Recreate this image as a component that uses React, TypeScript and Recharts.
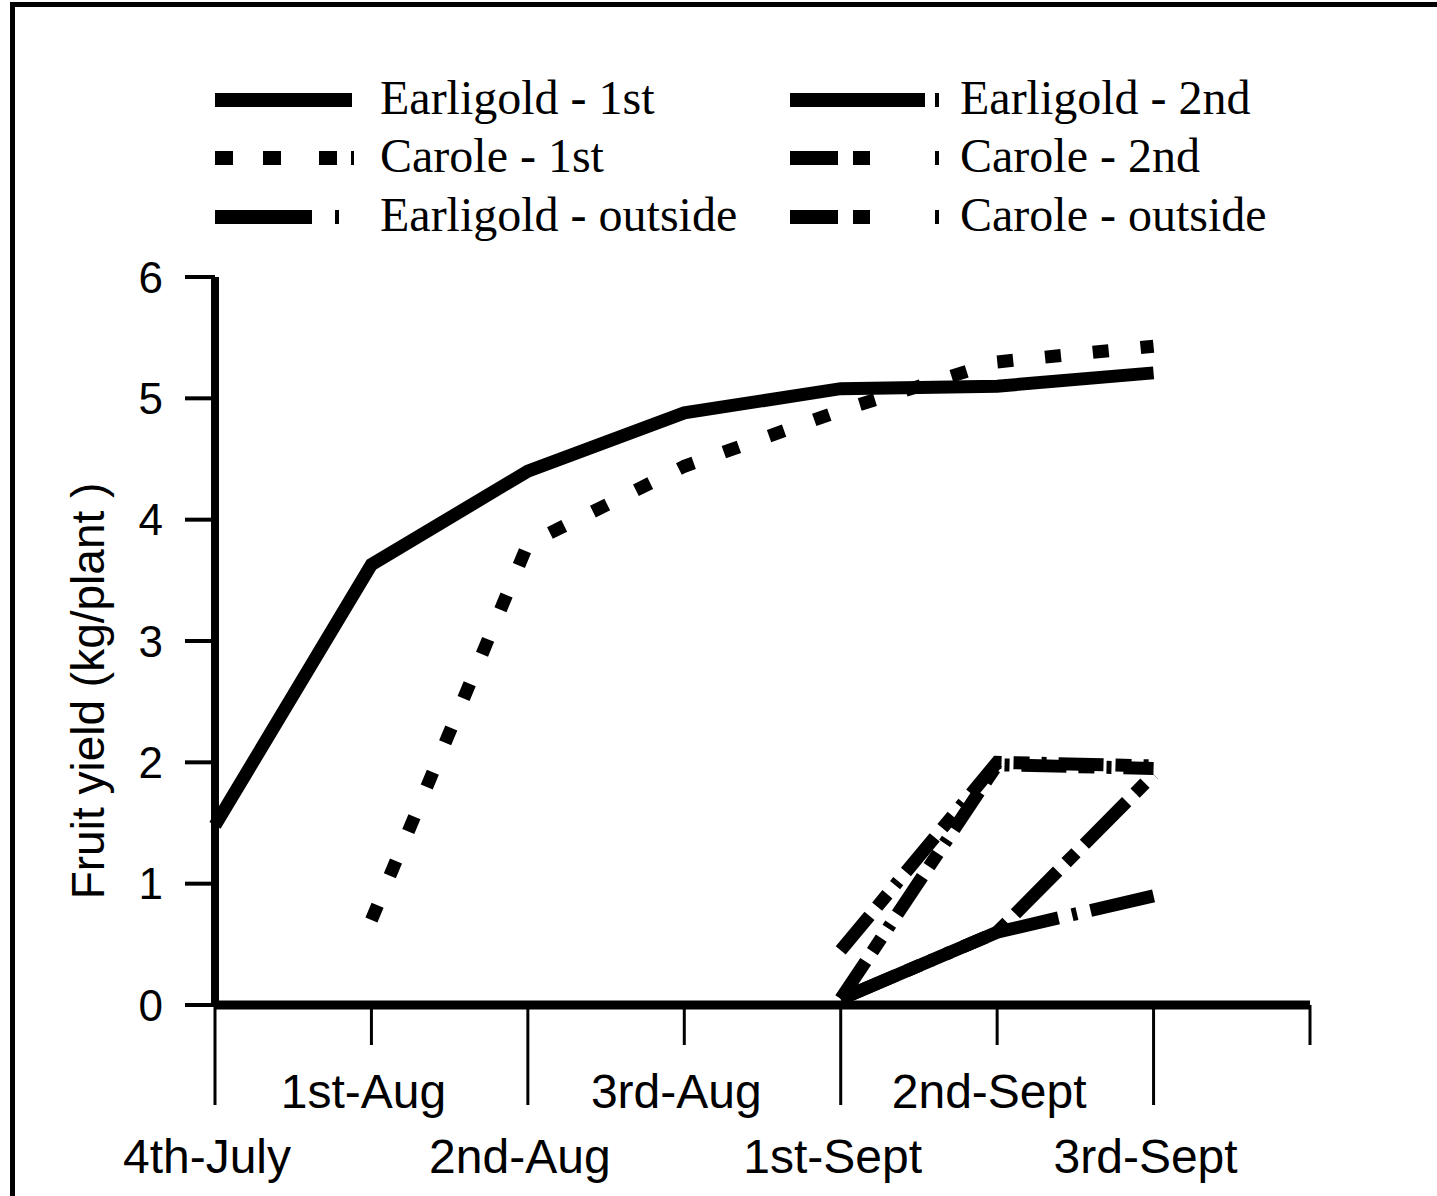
import React from "react";
import { LineChart, Line, XAxis, YAxis, Legend, Label } from "recharts";

// harvest weeks (last slot is an empty end tick)
const weeks = ["4th-July", "1st-Aug", "2nd-Aug", "3rd-Aug", "1st-Sept", "2nd-Sept", "3rd-Sept", ""];

const earligold1st = [1.48, 3.63, 4.4, 4.88, 5.08, 5.1, 5.21, null];
const carole1st = [null, 0.7, 3.8, 4.44, 4.9, 5.3, 5.43, null];
const earligold2nd = [null, null, null, null, 0.05, 0.6, 0.9, null];
const carole2nd = [null, null, null, null, 0.45, 2.0, 1.97, null];
const earligoldOutside = [null, null, null, null, 0.05, 0.6, 1.9, null];
const caroleOutside = [null, null, null, null, 0.05, 1.98, 1.95, null];

const yTicks = [0, 1, 2, 3, 4, 5, 6];

type Series = {
  key: string;
  name: string;
  values: (number | null)[];
  dash?: string;
  legendDash?: string;
  col: number;
  row: number;
};

const series: Series[] = [
  { key: "e1", name: "Earligold - 1st", values: earligold1st, col: 0, row: 0 },
  { key: "e2", name: "Earligold - 2nd", values: earligold2nd, dash: "100 14 5 14", legendDash: "135 10 4 40", col: 1, row: 0 },
  { key: "c1", name: "Carole - 1st", values: carole1st, dash: "16 32", legendDash: "18 30 18 38 18 14 3 100", col: 0, row: 1 },
  { key: "c2", name: "Carole - 2nd", values: carole2nd, dash: "45 12 16 12 5 12", legendDash: "48 15 17 65 4 60", col: 1, row: 1 },
  { key: "eo", name: "Earligold - outside", values: earligoldOutside, dash: "60 12 14 12", legendDash: "97 23 4 60", col: 0, row: 2 },
  { key: "co", name: "Carole - outside", values: caroleOutside, dash: "45 12 16 12 5 12", legendDash: "48 15 17 65 4 60", col: 1, row: 2 },
];

const data = weeks.map((week, i) => {
  const row: Record<string, string | number | null> = { week };
  series.forEach((s) => {
    row[s.key] = s.values[i];
  });
  return row;
});

const colSample = [215, 790];
const colText = [380, 960];
const rowY = [100, 158, 217];

const renderLegend = () => (
  <div style={{ position: "relative", width: 1437, height: 260 }}>
    {series.map((s) => (
      <React.Fragment key={s.key}>
        <svg
          width={150}
          height={20}
          style={{ position: "absolute", left: colSample[s.col], top: rowY[s.row] - 10 }}
        >
          <line x1={0} y1={10} x2={s.legendDash ? 150 : 137} y2={10} stroke="#000" strokeWidth={14} strokeDasharray={s.legendDash} />
        </svg>
        <div
          style={{
            position: "absolute",
            left: colText[s.col],
            top: rowY[s.row] - 30,
            fontFamily: "Liberation Serif",
            fontSize: 48,
            lineHeight: "56px",
            color: "#000",
            whiteSpace: "nowrap",
          }}
        >
          {s.name}
        </div>
      </React.Fragment>
    ))}
  </div>
);

const WeekTick = (props: any) => {
  const { x, y, payload } = props;
  const i = weeks.indexOf(payload.value);
  const low = i % 2 === 0;
  return (
    <g>
      <line x1={x} y1={y} x2={x} y2={y + (low ? 100 : 40)} stroke="#000" strokeWidth={3} />
      {payload.value ? (
        <text
          x={x - 8}
          y={y + (low ? 168 : 103)}
          textAnchor="middle"
          fontSize={48}
          fontFamily="Liberation Sans"
          fill="#000"
        >
          {payload.value}
        </text>
      ) : null}
    </g>
  );
};

export default function App() {
  return (
    <div style={{ position: "absolute", left: 0, top: 0, width: 1437, height: 1196, background: "#fff" }}>
      <div
        style={{
          position: "absolute",
          left: 10,
          top: 2,
          width: 1440,
          height: 1200,
          borderTop: "5px solid #000",
          borderLeft: "5px solid #000",
        }}
      />
      <div style={{ position: "absolute", left: 0, top: 0 }}>
        <LineChart width={1437} height={1196} data={data} margin={{ top: 277, right: 127, left: 115, bottom: 41 }}>
          <XAxis
            dataKey="week"
            scale="point"
            interval={0}
            height={150}
            tickSize={0}
            tickMargin={0}
            tickLine={false}
            axisLine={{ stroke: "#000", strokeWidth: 9 }}
            tick={<WeekTick />}
          />
          <YAxis
            domain={[0, 6]}
            ticks={yTicks}
            width={100}
            tickSize={30}
            tickMargin={22}
            tickLine={{ stroke: "#000", strokeWidth: 4 }}
            axisLine={{ stroke: "#000", strokeWidth: 8 }}
            tick={{ fontSize: 44, fill: "#000", fontFamily: "Liberation Sans" }}
          >
            <Label
              content={(p: any) => {
                const vb = p.viewBox;
                const cx = 88;
                const cy = vb.y + vb.height / 2 + 50;
                return (
                  <text
                    x={cx}
                    y={cy}
                    transform={`rotate(-90, ${cx}, ${cy})`}
                    textAnchor="middle"
                    dominantBaseline="central"
                    fontSize={46}
                    fontFamily="Liberation Sans"
                    fill="#000"
                  >
                    Fruit yield (kg/plant )
                  </text>
                );
              }}
            />
          </YAxis>
          <Legend
            verticalAlign="middle"
            layout="horizontal"
            wrapperStyle={{ top: 0, left: 0, width: 1437, height: 260 }}
            content={renderLegend}
          />
          {series.map((s) => (
            <Line
              key={s.key}
              dataKey={s.key}
              name={s.name}
              type="linear"
              stroke="#000"
              strokeWidth={13}
              strokeDasharray={s.dash}
              dot={false}
              activeDot={false}
              isAnimationActive={false}
            />
          ))}
        </LineChart>
      </div>
    </div>
  );
}
